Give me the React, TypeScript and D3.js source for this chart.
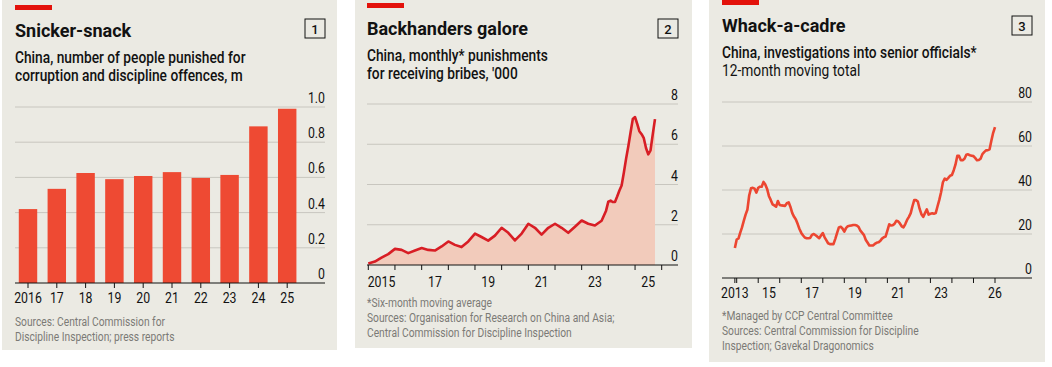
import React from 'react';
import * as d3 from 'd3';

// chart 1: people punished, m
const barYears = ['2016', '17', '18', '19', '20', '21', '22', '23', '24', '25'];
const barValues = [0.42, 0.535, 0.625, 0.59, 0.608, 0.63, 0.597, 0.614, 0.89, 0.99];
const barTicks = [0, 0.2, 0.4, 0.6, 0.8, 1.0];

// chart 2: monthly punishments for bribes, '000 (six-month moving average)
const bribeMonths = [
  '2015-01', '2015-04', '2015-07', '2015-10',
  '2016-01', '2016-04', '2016-07', '2016-10',
  '2017-01', '2017-04', '2017-07', '2017-10',
  '2018-01', '2018-04', '2018-07', '2018-10',
  '2019-01', '2019-04', '2019-07', '2019-10',
  '2020-01', '2020-04', '2020-07', '2020-10',
  '2021-01', '2021-04', '2021-07', '2021-10',
  '2022-01', '2022-04', '2022-07', '2022-10',
  '2023-01', '2023-04', '2023-07', '2023-10', '2023-12',
  '2024-01', '2024-02', '2024-03', '2024-04', '2024-05', '2024-06',
  '2024-07', '2024-08', '2024-09', '2024-10', '2024-11', '2024-12',
  '2025-01', '2025-02', '2025-03', '2025-04', '2025-05', '2025-06',
  '2025-07', '2025-08', '2025-09', '2025-10'
];
const bribeValues = [
  0.08, 0.17, 0.37, 0.54,
  0.8, 0.75, 0.59, 0.72,
  0.84, 0.75, 0.72, 0.92,
  1.17, 1.0, 0.89, 1.17,
  1.56, 1.39, 1.21, 1.46,
  1.85, 1.6, 1.22, 1.56,
  2.05, 1.85, 1.51, 1.85,
  2.05, 1.85, 1.6, 1.9,
  2.21, 2.05, 1.96, 2.2, 2.7,
  3.15, 3.2, 3.13, 3.13, 3.4, 3.7,
  3.95, 4.6, 5.3, 5.9, 6.6, 7.25,
  7.35, 7.0, 6.65, 6.5, 6.3, 5.8,
  5.5, 5.7, 6.5, 7.25
];
const bribeTicks = [0, 2, 4, 6, 8];
const bribeLabels = ['2015', '17', '19', '21', '23', '25'];

// chart 3: investigations into senior officials, 12-month moving total, monthly from Dec 2013
const probeStart = '2013-12';
const probeValues = [
  13.6, 17.5, 18, 20.5, 23, 26, 28.8, 31, 37.5, 40.8, 41, 40.6, 38.8,
  41, 41.5, 41.5, 43.7, 42.5, 40.5, 37.3, 35.5, 33.5, 33, 32.4, 35,
  33.2, 33, 32.9, 32.8, 34, 34.4, 32.3, 29.5, 27.8, 26.6, 24.5, 22.3,
  20.5, 19.3, 18.4, 18.1, 18.1, 18.2, 19.6, 20, 19.4, 18.8, 18.1, 19.3,
  20.4, 18.5, 17.2, 15.8, 15.4, 15.4, 15.4, 17.8, 20.5, 23, 23.3, 22.5,
  21.1, 22.8, 23.5, 23.7, 23.9, 24.1, 24.1, 23.9, 23.2, 21.5, 20.5, 19.5,
  17.3, 16, 14.8, 14.8, 14.8, 15.5, 16, 16.2, 16.8, 17.9, 18.5, 18.8,
  21.5, 24.4, 23.9, 24, 24.6, 26, 25.8, 24.8, 23.5, 23, 24.5, 26.4,
  27.8, 29.5, 32.5, 35.4, 35.4, 34.8, 31.5, 29, 27.8, 29.5, 31.2, 28.8,
  29.2, 29.4, 29.2, 29.5, 32.5, 35.5, 39, 43.5, 45.2, 44.6, 45.5, 46.5,
  46.8, 49, 51.5, 55.5, 55.5, 53.5, 53.5, 54.2, 56, 56.2, 55.8, 55.6,
  55.4, 54.5, 53.5, 53.6, 54.2, 56.3, 57.2, 58, 58.1, 58.5, 62.5, 66, 68.6
];
const probeTicks = [0, 20, 40, 60, 80];
const probeLabels = ['2013', '15', '17', '19', '21', '23', '26'];

const BG = '#ebeae3';
const GRID = '#c8c6bf';
const INK = '#121212';
const GREY = '#7b7a76';
const RED = '#e3120b';
const FONT = 'Roboto, "Noto Sans", sans-serif';

const parseMonth = d3.timeParse('%Y-%m');

// condensed text: no narrow face installed, so squeeze Roboto horizontally
function NText({ x, y, size, anchor = 'start', weight = 400, fill = INK, sx = 0.82, children }) {
  return (
    <text transform={`translate(${x},${y}) scale(${sx},1)`} textAnchor={anchor}
      fontFamily={FONT} fontSize={size} fontWeight={weight} fill={fill}>{children}</text>
  );
}

function Frame({ x0, x1, y1, stripeX, stripeY, title, num, boxX, boxY, subtitle, subBold, footnotes, footY }) {
  return (
    <g>
      <rect x={x0} y={0} width={x1 - x0} height={y1} fill={BG} />
      <rect x={stripeX} y={stripeY} width={37} height={5} fill={RED} />
      <text x={stripeX} y={stripeY + 31.5} fontFamily={FONT} fontWeight={700} fontSize={18} fill={INK}>{title}</text>
      <rect x={boxX} y={boxY} width={20} height={19} fill="none" stroke={INK} strokeWidth={1} />
      <text x={boxX + 10} y={boxY + 14.5} textAnchor="middle" fontFamily={FONT} fontWeight={500} fontSize={13} fill={INK}>{num}</text>
      {subtitle.map((s, i) => (
        <NText key={s} x={stripeX} y={stripeY + 57.5 + i * 18} size={16} weight={subBold[i] ? 500 : 400} sx={0.86}>{s}</NText>
      ))}
      {footnotes.map((s, i) => (
        <NText key={s} x={stripeX} y={footY + i * 15} size={12.5} fill={GREY}>{s}</NText>
      ))}
    </g>
  );
}

function YGrid({ y, ticks, left, right, fmt }) {
  return (
    <g>
      {ticks.map(t => (
        <g key={t}>
          {t !== 0 && <line x1={left} x2={right} y1={y(t)} y2={y(t)} stroke={GRID} strokeWidth={1} />}
          <NText x={right} y={y(t) - 4} anchor="end" size={15}>{t === 0 ? '0' : fmt(t)}</NText>
        </g>
      ))}
    </g>
  );
}

function BarPanel() {
  const y = d3.scaleLinear().domain([0, 1]).range([283, 107]);
  const x = d3.scaleBand().domain(barYears).range([13.6, 301.6]).paddingInner(0.36).paddingOuter(0.18);
  return (
    <g>
      <Frame x0={2} x1={337} y1={350} stripeX={15} stripeY={5} title="Snicker-snack" num="1" boxX={305} boxY={19}
        subtitle={['China, number of people punished for', 'corruption and discipline offences, m']} subBold={[true, true]}
        footnotes={['Sources: Central Commission for', 'Discipline Inspection; press reports']} footY={326} />
      <YGrid y={y} ticks={barTicks} left={15} right={325} fmt={d3.format('.1f')} />
      {barValues.map((v, i) => (
        <rect key={barYears[i]} x={x(barYears[i])} y={y(v)} width={x.bandwidth()} height={y(0) - y(v)} fill="#ee4a33" />
      ))}
      <line x1={15} x2={325} y1={y(0)} y2={y(0)} stroke={INK} strokeWidth={1.2} />
      {barYears.map(d => (
        <g key={d}>
          <line x1={x(d) + x.bandwidth() / 2} x2={x(d) + x.bandwidth() / 2} y1={y(0)} y2={y(0) + 5} stroke={INK} />
          <NText x={x(d) + x.bandwidth() / 2} y={303} anchor="middle" size={15}>{d}</NText>
        </g>
      ))}
    </g>
  );
}

function BribePanel() {
  const data = bribeMonths.map((m, i) => ({ date: parseMonth(m), value: bribeValues[i] }));
  const x = d3.scaleTime().domain([new Date(2015, 0, 1), new Date(2026, 0, 1)]).range([368.3, 661.7]);
  const y = d3.scaleLinear().domain([0, 8]).range([265, 104]);
  const area = d3.area().x(d => x(d.date)).y0(y(0)).y1(d => y(d.value));
  const line = d3.line().x(d => x(d.date)).y(d => y(d.value));
  const years = d3.timeYear.range(new Date(2015, 0, 1), new Date(2026, 0, 2));
  return (
    <g>
      <Frame x0={355} x1={692} y1={348} stripeX={367} stripeY={3} title="Backhanders galore" num="2" boxX={658} boxY={19}
        subtitle={['China, monthly* punishments', "for receiving bribes, '000"]} subBold={[true, true]}
        footnotes={['*Six-month moving average', 'Sources: Organisation for Research on China and Asia;', 'Central Commission for Discipline Inspection']} footY={307} />
      <YGrid y={y} ticks={bribeTicks} left={367} right={678} fmt={d3.format('d')} />
      <path d={area(data)} fill="#f2cbbb" />
      <path d={line(data)} fill="none" stroke="#d81e25" strokeWidth={2.6} strokeLinejoin="round" />
      <line x1={367} x2={678} y1={y(0)} y2={y(0)} stroke={INK} strokeWidth={1.2} />
      {years.map(d => (
        <line key={+d} x1={x(d)} x2={x(d)} y1={y(0)} y2={y(0) + 5} stroke={INK} />
      ))}
      {bribeLabels.map(l => {
        const yr = l.length === 4 ? +l : 2000 + +l;
        return <NText key={l} x={x(new Date(yr, 6, 1))} y={287} anchor="middle" size={15}>{l}</NText>;
      })}
    </g>
  );
}

function ProbePanel() {
  const start = parseMonth(probeStart);
  const data = probeValues.map((v, i) => ({ date: d3.timeMonth.offset(start, i), value: v }));
  const x = d3.scaleTime().domain([new Date(2014, 0, 1), new Date(2026, 0, 1)]).range([736.7, 995]);
  const y = d3.scaleLinear().domain([0, 80]).range([278, 102]);
  const line = d3.line().x(d => x(d.date)).y(d => y(d.value));
  const years = [start].concat(d3.timeYear.range(new Date(2014, 0, 1), new Date(2026, 0, 2)));
  const labelX = l => {
    if (l === '2013') return x(start);
    if (l === '26') return x(new Date(2026, 0, 1));
    return x(new Date(2000 + +l, 6, 1));
  };
  return (
    <g>
      <Frame x0={709} x1={1045} y1={362} stripeX={722} stripeY={0} title="Whack-a-cadre" num="3" boxX={1012} boxY={16}
        subtitle={['China, investigations into senior officials*', '12-month moving total']} subBold={[true, false]}
        footnotes={['*Managed by CCP Central Committee', 'Sources: Central Commission for Discipline', 'Inspection; Gavekal Dragonomics']} footY={320} />
      <YGrid y={y} ticks={probeTicks} left={722} right={1032} fmt={d3.format('d')} />
      <path d={line(data)} fill="none" stroke="#ec4631" strokeWidth={2.6} strokeLinejoin="round" />
      <line x1={722} x2={1032} y1={y(0)} y2={y(0)} stroke={INK} strokeWidth={1.2} />
      {years.map(d => (
        <line key={+d} x1={x(d)} x2={x(d)} y1={y(0)} y2={y(0) + 5} stroke={INK} />
      ))}
      {probeLabels.map(l => (
        <NText key={l} x={labelX(l)} y={298} anchor="middle" size={15}>{l}</NText>
      ))}
    </g>
  );
}

export default function App() {
  return (
    <svg width={1052} height={367} style={{ position: 'absolute', left: 0, top: 0, background: '#fff' }}>
      <BarPanel />
      <BribePanel />
      <ProbePanel />
    </svg>
  );
}
